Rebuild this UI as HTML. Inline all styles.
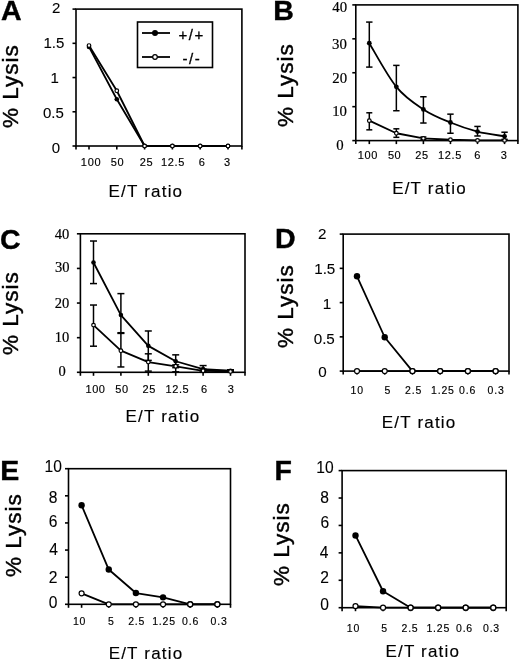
<!DOCTYPE html>
<html><head><meta charset="utf-8"><title>Lysis</title>
<style>html,body{margin:0;padding:0;background:#fff;}svg{display:block;will-change:transform;}</style></head>
<body><svg width="520" height="660" viewBox="0 0 520 660">
<rect width="520" height="660" fill="#fff"/>
<rect x="76" y="9.1" width="165.9" height="136.9" fill="none" stroke="#000" stroke-width="1.6"/>
<line x1="72.50" y1="146.00" x2="76.00" y2="146.00" stroke="#000" stroke-width="1.6"/>
<line x1="72.50" y1="111.78" x2="76.00" y2="111.78" stroke="#000" stroke-width="1.6"/>
<line x1="72.50" y1="77.55" x2="76.00" y2="77.55" stroke="#000" stroke-width="1.6"/>
<line x1="72.50" y1="43.32" x2="76.00" y2="43.32" stroke="#000" stroke-width="1.6"/>
<line x1="72.50" y1="9.10" x2="76.00" y2="9.10" stroke="#000" stroke-width="1.6"/>
<line x1="76.00" y1="146.00" x2="76.00" y2="149.50" stroke="#000" stroke-width="1.6"/>
<line x1="89.00" y1="146.00" x2="89.00" y2="149.50" stroke="#000" stroke-width="1.6"/>
<line x1="116.80" y1="146.00" x2="116.80" y2="149.50" stroke="#000" stroke-width="1.6"/>
<line x1="144.60" y1="146.00" x2="144.60" y2="149.50" stroke="#000" stroke-width="1.6"/>
<line x1="172.40" y1="146.00" x2="172.40" y2="149.50" stroke="#000" stroke-width="1.6"/>
<line x1="200.20" y1="146.00" x2="200.20" y2="149.50" stroke="#000" stroke-width="1.6"/>
<line x1="228.00" y1="146.00" x2="228.00" y2="149.50" stroke="#000" stroke-width="1.6"/>
<line x1="241.90" y1="146.00" x2="241.90" y2="149.50" stroke="#000" stroke-width="1.6"/>
<text x="56.05" y="12.70" font-size="15" text-anchor="middle" font-family='"Liberation Sans", sans-serif' font-weight="normal" stroke="#000" stroke-width="0.1">2</text>
<text x="53.90" y="48.10" font-size="15" text-anchor="middle" font-family='"Liberation Sans", sans-serif' font-weight="normal" stroke="#000" stroke-width="0.1">1.5</text>
<text x="54.75" y="82.70" font-size="15" text-anchor="middle" font-family='"Liberation Sans", sans-serif' font-weight="normal" stroke="#000" stroke-width="0.1">1</text>
<text x="53.40" y="117.90" font-size="15" text-anchor="middle" font-family='"Liberation Sans", sans-serif' font-weight="normal" stroke="#000" stroke-width="0.1">0.5</text>
<text x="55.95" y="152.70" font-size="15" text-anchor="middle" font-family='"Liberation Sans", sans-serif' font-weight="normal" stroke="#000" stroke-width="0.1">0</text>
<text x="91.10" y="166.00" font-size="11" text-anchor="middle" font-family='"Liberation Sans", sans-serif' font-weight="normal" stroke="#000" stroke-width="0.15" letter-spacing="0.7">100</text>
<text x="117.60" y="166.00" font-size="11" text-anchor="middle" font-family='"Liberation Sans", sans-serif' font-weight="normal" stroke="#000" stroke-width="0.15" letter-spacing="0.7">50</text>
<text x="146.50" y="166.00" font-size="11" text-anchor="middle" font-family='"Liberation Sans", sans-serif' font-weight="normal" stroke="#000" stroke-width="0.15" letter-spacing="0.7">25</text>
<text x="173.00" y="166.00" font-size="11" text-anchor="middle" font-family='"Liberation Sans", sans-serif' font-weight="normal" stroke="#000" stroke-width="0.15" letter-spacing="0.7">12.5</text>
<text x="202.20" y="166.00" font-size="11" text-anchor="middle" font-family='"Liberation Sans", sans-serif' font-weight="normal" stroke="#000" stroke-width="0.15" letter-spacing="0.7">6</text>
<text x="227.40" y="166.00" font-size="11" text-anchor="middle" font-family='"Liberation Sans", sans-serif' font-weight="normal" stroke="#000" stroke-width="0.15" letter-spacing="0.7">3</text>
<path d="M89.00,46.90 L116.80,99.26 L144.60,146.00 L172.40,146.00 L200.20,146.00 L228.00,146.00" fill="none" stroke="#000" stroke-width="1.8" stroke-linejoin="round"/>
<circle cx="89.00" cy="46.90" r="2.3" fill="#000"/>
<circle cx="116.80" cy="99.26" r="2.3" fill="#000"/>
<circle cx="144.60" cy="146.00" r="2.3" fill="#000"/>
<circle cx="172.40" cy="146.00" r="2.3" fill="#000"/>
<circle cx="200.20" cy="146.00" r="2.3" fill="#000"/>
<circle cx="228.00" cy="146.00" r="2.3" fill="#000"/>
<path d="M89.00,45.54 L116.80,90.76 L144.60,146.00 L172.40,146.00 L200.20,146.00 L228.00,146.00" fill="none" stroke="#000" stroke-width="1.8" stroke-linejoin="round"/>
<circle cx="89.00" cy="45.54" r="1.7999999999999998" fill="#fff" stroke="#000" stroke-width="1.2"/>
<circle cx="116.80" cy="90.76" r="1.7999999999999998" fill="#fff" stroke="#000" stroke-width="1.2"/>
<circle cx="144.60" cy="146.00" r="1.7999999999999998" fill="#fff" stroke="#000" stroke-width="1.2"/>
<circle cx="172.40" cy="146.00" r="1.7999999999999998" fill="#fff" stroke="#000" stroke-width="1.2"/>
<circle cx="200.20" cy="146.00" r="1.7999999999999998" fill="#fff" stroke="#000" stroke-width="1.2"/>
<circle cx="228.00" cy="146.00" r="1.7999999999999998" fill="#fff" stroke="#000" stroke-width="1.2"/>
<text x="11.35" y="20.30" font-size="28.5" text-anchor="middle" font-family='"Liberation Sans", sans-serif' font-weight="bold" stroke="#000" stroke-width="0.4">A</text>
<text transform="translate(18.20,86.15) rotate(-90)" font-size="22.5" font-family='"Liberation Sans", sans-serif' font-weight="normal" text-anchor="middle" stroke="#000" stroke-width="0.4" letter-spacing="1.0">% Lysis</text>
<text x="145.90" y="197.20" font-size="17" text-anchor="middle" font-family='"Liberation Sans", sans-serif' font-weight="normal" stroke="#000" stroke-width="0.15" letter-spacing="1.2">E/T ratio</text>
<rect x="355.8" y="4.9" width="162.09999999999997" height="135.7" fill="none" stroke="#000" stroke-width="1.6"/>
<line x1="352.30" y1="140.60" x2="355.80" y2="140.60" stroke="#000" stroke-width="1.6"/>
<line x1="352.30" y1="106.67" x2="355.80" y2="106.67" stroke="#000" stroke-width="1.6"/>
<line x1="352.30" y1="72.75" x2="355.80" y2="72.75" stroke="#000" stroke-width="1.6"/>
<line x1="352.30" y1="38.83" x2="355.80" y2="38.83" stroke="#000" stroke-width="1.6"/>
<line x1="352.30" y1="4.90" x2="355.80" y2="4.90" stroke="#000" stroke-width="1.6"/>
<line x1="355.80" y1="140.60" x2="355.80" y2="144.10" stroke="#000" stroke-width="1.6"/>
<line x1="369.30" y1="140.60" x2="369.30" y2="144.10" stroke="#000" stroke-width="1.6"/>
<line x1="396.35" y1="140.60" x2="396.35" y2="144.10" stroke="#000" stroke-width="1.6"/>
<line x1="423.40" y1="140.60" x2="423.40" y2="144.10" stroke="#000" stroke-width="1.6"/>
<line x1="450.45" y1="140.60" x2="450.45" y2="144.10" stroke="#000" stroke-width="1.6"/>
<line x1="477.50" y1="140.60" x2="477.50" y2="144.10" stroke="#000" stroke-width="1.6"/>
<line x1="504.55" y1="140.60" x2="504.55" y2="144.10" stroke="#000" stroke-width="1.6"/>
<line x1="517.90" y1="140.60" x2="517.90" y2="144.10" stroke="#000" stroke-width="1.6"/>
<text x="339.70" y="11.70" font-size="14.8" text-anchor="middle" font-family='"Liberation Serif", serif' font-weight="normal" stroke="#000" stroke-width="0.2">40</text>
<text x="339.50" y="48.50" font-size="14.8" text-anchor="middle" font-family='"Liberation Serif", serif' font-weight="normal" stroke="#000" stroke-width="0.2">30</text>
<text x="339.65" y="82.50" font-size="14.8" text-anchor="middle" font-family='"Liberation Serif", serif' font-weight="normal" stroke="#000" stroke-width="0.2">20</text>
<text x="339.60" y="116.10" font-size="14.8" text-anchor="middle" font-family='"Liberation Serif", serif' font-weight="normal" stroke="#000" stroke-width="0.2">10</text>
<text x="339.95" y="149.80" font-size="14.8" text-anchor="middle" font-family='"Liberation Serif", serif' font-weight="normal" stroke="#000" stroke-width="0.2">0</text>
<text x="367.80" y="158.60" font-size="11" text-anchor="middle" font-family='"Liberation Sans", sans-serif' font-weight="normal" stroke="#000" stroke-width="0.15" letter-spacing="0.6">100</text>
<text x="394.60" y="158.60" font-size="11" text-anchor="middle" font-family='"Liberation Sans", sans-serif' font-weight="normal" stroke="#000" stroke-width="0.15" letter-spacing="0.6">50</text>
<text x="421.90" y="158.60" font-size="11" text-anchor="middle" font-family='"Liberation Sans", sans-serif' font-weight="normal" stroke="#000" stroke-width="0.15" letter-spacing="0.6">25</text>
<text x="450.00" y="158.60" font-size="11" text-anchor="middle" font-family='"Liberation Sans", sans-serif' font-weight="normal" stroke="#000" stroke-width="0.15" letter-spacing="0.6">12.5</text>
<text x="477.70" y="158.60" font-size="11" text-anchor="middle" font-family='"Liberation Sans", sans-serif' font-weight="normal" stroke="#000" stroke-width="0.15" letter-spacing="0.6">6</text>
<text x="504.00" y="158.60" font-size="11" text-anchor="middle" font-family='"Liberation Sans", sans-serif' font-weight="normal" stroke="#000" stroke-width="0.15" letter-spacing="0.6">3</text>
<line x1="369.30" y1="22.08" x2="369.30" y2="67.09" stroke="#000" stroke-width="1.5"/>
<line x1="366.10" y1="22.08" x2="372.50" y2="22.08" stroke="#000" stroke-width="1.5"/>
<line x1="366.10" y1="67.09" x2="372.50" y2="67.09" stroke="#000" stroke-width="1.5"/>
<line x1="396.35" y1="65.39" x2="396.35" y2="110.74" stroke="#000" stroke-width="1.5"/>
<line x1="393.15" y1="65.39" x2="399.55" y2="65.39" stroke="#000" stroke-width="1.5"/>
<line x1="393.15" y1="110.74" x2="399.55" y2="110.74" stroke="#000" stroke-width="1.5"/>
<line x1="423.40" y1="96.76" x2="423.40" y2="123.02" stroke="#000" stroke-width="1.5"/>
<line x1="420.20" y1="96.76" x2="426.60" y2="96.76" stroke="#000" stroke-width="1.5"/>
<line x1="420.20" y1="123.02" x2="426.60" y2="123.02" stroke="#000" stroke-width="1.5"/>
<line x1="450.45" y1="114.15" x2="450.45" y2="133.25" stroke="#000" stroke-width="1.5"/>
<line x1="447.25" y1="114.15" x2="453.65" y2="114.15" stroke="#000" stroke-width="1.5"/>
<line x1="447.25" y1="133.25" x2="453.65" y2="133.25" stroke="#000" stroke-width="1.5"/>
<line x1="477.50" y1="126.43" x2="477.50" y2="135.98" stroke="#000" stroke-width="1.5"/>
<line x1="474.30" y1="126.43" x2="480.70" y2="126.43" stroke="#000" stroke-width="1.5"/>
<line x1="474.30" y1="135.98" x2="480.70" y2="135.98" stroke="#000" stroke-width="1.5"/>
<line x1="504.55" y1="132.22" x2="504.55" y2="139.39" stroke="#000" stroke-width="1.5"/>
<line x1="501.35" y1="132.22" x2="507.75" y2="132.22" stroke="#000" stroke-width="1.5"/>
<line x1="501.35" y1="139.39" x2="507.75" y2="139.39" stroke="#000" stroke-width="1.5"/>
<path d="M369.30,43.22 C373.81,50.50 387.33,75.85 396.35,86.87 C405.37,97.90 414.38,103.44 423.40,109.38 C432.42,115.32 441.43,118.81 450.45,122.51 C459.47,126.20 468.48,129.24 477.50,131.54 C486.52,133.84 500.04,135.52 504.55,136.32" fill="none" stroke="#000" stroke-width="1.8" stroke-linejoin="round"/>
<circle cx="369.30" cy="43.22" r="2.4" fill="#000"/>
<circle cx="396.35" cy="86.87" r="2.4" fill="#000"/>
<circle cx="423.40" cy="109.38" r="2.4" fill="#000"/>
<circle cx="450.45" cy="122.51" r="2.4" fill="#000"/>
<circle cx="477.50" cy="131.54" r="2.4" fill="#000"/>
<circle cx="504.55" cy="136.32" r="2.4" fill="#000"/>
<line x1="369.30" y1="112.79" x2="369.30" y2="129.84" stroke="#000" stroke-width="1.5"/>
<line x1="366.30" y1="112.79" x2="372.30" y2="112.79" stroke="#000" stroke-width="1.5"/>
<line x1="366.30" y1="129.84" x2="372.30" y2="129.84" stroke="#000" stroke-width="1.5"/>
<line x1="396.35" y1="128.81" x2="396.35" y2="137.34" stroke="#000" stroke-width="1.5"/>
<line x1="393.35" y1="128.81" x2="399.35" y2="128.81" stroke="#000" stroke-width="1.5"/>
<line x1="393.35" y1="137.34" x2="399.35" y2="137.34" stroke="#000" stroke-width="1.5"/>
<line x1="423.40" y1="137.00" x2="423.40" y2="139.73" stroke="#000" stroke-width="1.5"/>
<line x1="420.40" y1="137.00" x2="426.40" y2="137.00" stroke="#000" stroke-width="1.5"/>
<line x1="420.40" y1="139.73" x2="426.40" y2="139.73" stroke="#000" stroke-width="1.5"/>
<path d="M369.30,120.63 L396.35,133.25 L423.40,138.36 L450.45,139.73 L477.50,140.41 L504.55,140.41" fill="none" stroke="#000" stroke-width="1.8" stroke-linejoin="round"/>
<circle cx="369.30" cy="120.63" r="1.7999999999999998" fill="#fff" stroke="#000" stroke-width="1.2"/>
<circle cx="396.35" cy="133.25" r="1.7999999999999998" fill="#fff" stroke="#000" stroke-width="1.2"/>
<circle cx="423.40" cy="138.36" r="1.7999999999999998" fill="#fff" stroke="#000" stroke-width="1.2"/>
<circle cx="450.45" cy="139.73" r="1.7999999999999998" fill="#fff" stroke="#000" stroke-width="1.2"/>
<circle cx="477.50" cy="140.41" r="1.7999999999999998" fill="#fff" stroke="#000" stroke-width="1.2"/>
<circle cx="504.55" cy="140.41" r="1.7999999999999998" fill="#fff" stroke="#000" stroke-width="1.2"/>
<text x="283.55" y="20.20" font-size="28.5" text-anchor="middle" font-family='"Liberation Sans", sans-serif' font-weight="bold" stroke="#000" stroke-width="0.4">B</text>
<text transform="translate(292.50,85.20) rotate(-90)" font-size="22.5" font-family='"Liberation Sans", sans-serif' font-weight="normal" text-anchor="middle" stroke="#000" stroke-width="0.4" letter-spacing="1.0">% Lysis</text>
<text x="429.50" y="193.50" font-size="17" text-anchor="middle" font-family='"Liberation Sans", sans-serif' font-weight="normal" stroke="#000" stroke-width="0.15" letter-spacing="1.2">E/T ratio</text>
<rect x="80.4" y="233.8" width="164.6" height="138.5" fill="none" stroke="#000" stroke-width="1.6"/>
<line x1="76.90" y1="372.30" x2="80.40" y2="372.30" stroke="#000" stroke-width="1.6"/>
<line x1="76.90" y1="337.68" x2="80.40" y2="337.68" stroke="#000" stroke-width="1.6"/>
<line x1="76.90" y1="303.05" x2="80.40" y2="303.05" stroke="#000" stroke-width="1.6"/>
<line x1="76.90" y1="268.43" x2="80.40" y2="268.43" stroke="#000" stroke-width="1.6"/>
<line x1="76.90" y1="233.80" x2="80.40" y2="233.80" stroke="#000" stroke-width="1.6"/>
<line x1="80.40" y1="372.30" x2="80.40" y2="375.80" stroke="#000" stroke-width="1.6"/>
<line x1="93.50" y1="372.30" x2="93.50" y2="375.80" stroke="#000" stroke-width="1.6"/>
<line x1="120.90" y1="372.30" x2="120.90" y2="375.80" stroke="#000" stroke-width="1.6"/>
<line x1="148.30" y1="372.30" x2="148.30" y2="375.80" stroke="#000" stroke-width="1.6"/>
<line x1="175.70" y1="372.30" x2="175.70" y2="375.80" stroke="#000" stroke-width="1.6"/>
<line x1="203.10" y1="372.30" x2="203.10" y2="375.80" stroke="#000" stroke-width="1.6"/>
<line x1="230.50" y1="372.30" x2="230.50" y2="375.80" stroke="#000" stroke-width="1.6"/>
<line x1="245.00" y1="372.30" x2="245.00" y2="375.80" stroke="#000" stroke-width="1.6"/>
<text x="62.10" y="238.70" font-size="14.5" text-anchor="middle" font-family='"Liberation Serif", serif' font-weight="normal" stroke="#000" stroke-width="0.2">40</text>
<text x="62.15" y="272.30" font-size="14.5" text-anchor="middle" font-family='"Liberation Serif", serif' font-weight="normal" stroke="#000" stroke-width="0.2">30</text>
<text x="61.95" y="307.50" font-size="14.5" text-anchor="middle" font-family='"Liberation Serif", serif' font-weight="normal" stroke="#000" stroke-width="0.2">20</text>
<text x="62.10" y="341.60" font-size="14.5" text-anchor="middle" font-family='"Liberation Serif", serif' font-weight="normal" stroke="#000" stroke-width="0.2">10</text>
<text x="62.00" y="375.80" font-size="14.5" text-anchor="middle" font-family='"Liberation Serif", serif' font-weight="normal" stroke="#000" stroke-width="0.2">0</text>
<text x="95.50" y="392.70" font-size="11" text-anchor="middle" font-family='"Liberation Sans", sans-serif' font-weight="normal" stroke="#000" stroke-width="0.15" letter-spacing="0.6">100</text>
<text x="121.90" y="392.70" font-size="11" text-anchor="middle" font-family='"Liberation Sans", sans-serif' font-weight="normal" stroke="#000" stroke-width="0.15" letter-spacing="0.6">50</text>
<text x="149.20" y="392.70" font-size="11" text-anchor="middle" font-family='"Liberation Sans", sans-serif' font-weight="normal" stroke="#000" stroke-width="0.15" letter-spacing="0.6">25</text>
<text x="177.40" y="392.70" font-size="11" text-anchor="middle" font-family='"Liberation Sans", sans-serif' font-weight="normal" stroke="#000" stroke-width="0.15" letter-spacing="0.6">12.5</text>
<text x="204.40" y="392.70" font-size="11" text-anchor="middle" font-family='"Liberation Sans", sans-serif' font-weight="normal" stroke="#000" stroke-width="0.15" letter-spacing="0.6">6</text>
<text x="231.10" y="392.70" font-size="11" text-anchor="middle" font-family='"Liberation Sans", sans-serif' font-weight="normal" stroke="#000" stroke-width="0.15" letter-spacing="0.6">3</text>
<line x1="93.50" y1="241.02" x2="93.50" y2="283.58" stroke="#000" stroke-width="1.5"/>
<line x1="90.00" y1="241.02" x2="97.00" y2="241.02" stroke="#000" stroke-width="1.5"/>
<line x1="90.00" y1="283.58" x2="97.00" y2="283.58" stroke="#000" stroke-width="1.5"/>
<line x1="120.90" y1="293.61" x2="120.90" y2="332.71" stroke="#000" stroke-width="1.5"/>
<line x1="117.40" y1="293.61" x2="124.40" y2="293.61" stroke="#000" stroke-width="1.5"/>
<line x1="117.40" y1="332.71" x2="124.40" y2="332.71" stroke="#000" stroke-width="1.5"/>
<line x1="148.30" y1="330.98" x2="148.30" y2="360.39" stroke="#000" stroke-width="1.5"/>
<line x1="144.80" y1="330.98" x2="151.80" y2="330.98" stroke="#000" stroke-width="1.5"/>
<line x1="144.80" y1="360.39" x2="151.80" y2="360.39" stroke="#000" stroke-width="1.5"/>
<line x1="175.70" y1="354.85" x2="175.70" y2="367.66" stroke="#000" stroke-width="1.5"/>
<line x1="172.20" y1="354.85" x2="179.20" y2="354.85" stroke="#000" stroke-width="1.5"/>
<line x1="172.20" y1="367.66" x2="179.20" y2="367.66" stroke="#000" stroke-width="1.5"/>
<line x1="203.10" y1="365.58" x2="203.10" y2="372.15" stroke="#000" stroke-width="1.5"/>
<line x1="199.60" y1="365.58" x2="206.60" y2="365.58" stroke="#000" stroke-width="1.5"/>
<line x1="199.60" y1="372.15" x2="206.60" y2="372.15" stroke="#000" stroke-width="1.5"/>
<line x1="230.50" y1="369.73" x2="230.50" y2="371.81" stroke="#000" stroke-width="1.5"/>
<line x1="227.00" y1="369.73" x2="234.00" y2="369.73" stroke="#000" stroke-width="1.5"/>
<line x1="227.00" y1="371.81" x2="234.00" y2="371.81" stroke="#000" stroke-width="1.5"/>
<path d="M93.50,262.47 L120.90,315.06 L148.30,345.86 L175.70,361.25 L203.10,369.04 L230.50,370.77" fill="none" stroke="#000" stroke-width="1.8" stroke-linejoin="round"/>
<circle cx="93.50" cy="262.47" r="2.3" fill="#000"/>
<circle cx="120.90" cy="315.06" r="2.3" fill="#000"/>
<circle cx="148.30" cy="345.86" r="2.3" fill="#000"/>
<circle cx="175.70" cy="361.25" r="2.3" fill="#000"/>
<circle cx="203.10" cy="369.04" r="2.3" fill="#000"/>
<circle cx="230.50" cy="370.77" r="2.3" fill="#000"/>
<line x1="93.50" y1="305.03" x2="93.50" y2="346.20" stroke="#000" stroke-width="1.5"/>
<line x1="90.00" y1="305.03" x2="97.00" y2="305.03" stroke="#000" stroke-width="1.5"/>
<line x1="90.00" y1="346.20" x2="97.00" y2="346.20" stroke="#000" stroke-width="1.5"/>
<line x1="120.90" y1="333.40" x2="120.90" y2="366.96" stroke="#000" stroke-width="1.5"/>
<line x1="117.40" y1="333.40" x2="124.40" y2="333.40" stroke="#000" stroke-width="1.5"/>
<line x1="117.40" y1="366.96" x2="124.40" y2="366.96" stroke="#000" stroke-width="1.5"/>
<line x1="148.30" y1="353.82" x2="148.30" y2="371.12" stroke="#000" stroke-width="1.5"/>
<line x1="144.80" y1="353.82" x2="151.80" y2="353.82" stroke="#000" stroke-width="1.5"/>
<line x1="144.80" y1="371.12" x2="151.80" y2="371.12" stroke="#000" stroke-width="1.5"/>
<line x1="175.70" y1="364.89" x2="175.70" y2="371.81" stroke="#000" stroke-width="1.5"/>
<line x1="172.20" y1="364.89" x2="179.20" y2="364.89" stroke="#000" stroke-width="1.5"/>
<line x1="172.20" y1="371.81" x2="179.20" y2="371.81" stroke="#000" stroke-width="1.5"/>
<line x1="203.10" y1="369.04" x2="203.10" y2="372.30" stroke="#000" stroke-width="1.5"/>
<line x1="199.60" y1="369.04" x2="206.60" y2="369.04" stroke="#000" stroke-width="1.5"/>
<line x1="199.60" y1="372.30" x2="206.60" y2="372.30" stroke="#000" stroke-width="1.5"/>
<line x1="230.50" y1="370.42" x2="230.50" y2="372.30" stroke="#000" stroke-width="1.5"/>
<line x1="227.00" y1="370.42" x2="234.00" y2="370.42" stroke="#000" stroke-width="1.5"/>
<line x1="227.00" y1="372.30" x2="234.00" y2="372.30" stroke="#000" stroke-width="1.5"/>
<path d="M93.50,325.10 L120.90,350.70 L148.30,362.12 L175.70,366.27 L203.10,370.77 L230.50,371.46" fill="none" stroke="#000" stroke-width="1.8" stroke-linejoin="round"/>
<circle cx="93.50" cy="325.10" r="1.7999999999999998" fill="#fff" stroke="#000" stroke-width="1.2"/>
<circle cx="120.90" cy="350.70" r="1.7999999999999998" fill="#fff" stroke="#000" stroke-width="1.2"/>
<circle cx="148.30" cy="362.12" r="1.7999999999999998" fill="#fff" stroke="#000" stroke-width="1.2"/>
<circle cx="175.70" cy="366.27" r="1.7999999999999998" fill="#fff" stroke="#000" stroke-width="1.2"/>
<circle cx="203.10" cy="370.77" r="1.7999999999999998" fill="#fff" stroke="#000" stroke-width="1.2"/>
<circle cx="230.50" cy="371.46" r="1.7999999999999998" fill="#fff" stroke="#000" stroke-width="1.2"/>
<text x="10.30" y="248.60" font-size="28.5" text-anchor="middle" font-family='"Liberation Sans", sans-serif' font-weight="bold" stroke="#000" stroke-width="0.4">C</text>
<text transform="translate(18.40,313.10) rotate(-90)" font-size="22.5" font-family='"Liberation Sans", sans-serif' font-weight="normal" text-anchor="middle" stroke="#000" stroke-width="0.4" letter-spacing="1.0">% Lysis</text>
<text x="162.95" y="421.80" font-size="17" text-anchor="middle" font-family='"Liberation Sans", sans-serif' font-weight="normal" stroke="#000" stroke-width="0.15" letter-spacing="1.2">E/T ratio</text>
<rect x="343.2" y="234.1" width="165.8" height="137.00000000000003" fill="none" stroke="#000" stroke-width="1.6"/>
<line x1="339.70" y1="371.10" x2="343.20" y2="371.10" stroke="#000" stroke-width="1.6"/>
<line x1="339.70" y1="336.85" x2="343.20" y2="336.85" stroke="#000" stroke-width="1.6"/>
<line x1="339.70" y1="302.60" x2="343.20" y2="302.60" stroke="#000" stroke-width="1.6"/>
<line x1="339.70" y1="268.35" x2="343.20" y2="268.35" stroke="#000" stroke-width="1.6"/>
<line x1="339.70" y1="234.10" x2="343.20" y2="234.10" stroke="#000" stroke-width="1.6"/>
<line x1="343.20" y1="371.10" x2="343.20" y2="374.60" stroke="#000" stroke-width="1.6"/>
<line x1="357.00" y1="371.10" x2="357.00" y2="374.60" stroke="#000" stroke-width="1.6"/>
<line x1="384.72" y1="371.10" x2="384.72" y2="374.60" stroke="#000" stroke-width="1.6"/>
<line x1="412.44" y1="371.10" x2="412.44" y2="374.60" stroke="#000" stroke-width="1.6"/>
<line x1="440.16" y1="371.10" x2="440.16" y2="374.60" stroke="#000" stroke-width="1.6"/>
<line x1="467.88" y1="371.10" x2="467.88" y2="374.60" stroke="#000" stroke-width="1.6"/>
<line x1="495.60" y1="371.10" x2="495.60" y2="374.60" stroke="#000" stroke-width="1.6"/>
<line x1="509.00" y1="371.10" x2="509.00" y2="374.60" stroke="#000" stroke-width="1.6"/>
<text x="322.35" y="239.40" font-size="15.2" text-anchor="middle" font-family='"Liberation Sans", sans-serif' font-weight="normal" stroke="#000" stroke-width="0.1">2</text>
<text x="324.75" y="273.60" font-size="15.2" text-anchor="middle" font-family='"Liberation Sans", sans-serif' font-weight="normal" stroke="#000" stroke-width="0.1">1.5</text>
<text x="326.90" y="308.80" font-size="15.2" text-anchor="middle" font-family='"Liberation Sans", sans-serif' font-weight="normal" stroke="#000" stroke-width="0.1">1</text>
<text x="324.25" y="343.60" font-size="15.2" text-anchor="middle" font-family='"Liberation Sans", sans-serif' font-weight="normal" stroke="#000" stroke-width="0.1">0.5</text>
<text x="322.60" y="377.00" font-size="15.2" text-anchor="middle" font-family='"Liberation Sans", sans-serif' font-weight="normal" stroke="#000" stroke-width="0.1">0</text>
<text x="357.20" y="394.40" font-size="10.5" text-anchor="middle" font-family='"Liberation Sans", sans-serif' font-weight="normal" stroke="#000" stroke-width="0.15" letter-spacing="0.8">10</text>
<text x="387.80" y="394.40" font-size="10.5" text-anchor="middle" font-family='"Liberation Sans", sans-serif' font-weight="normal" stroke="#000" stroke-width="0.15" letter-spacing="0.8">5</text>
<text x="413.60" y="394.40" font-size="10.5" text-anchor="middle" font-family='"Liberation Sans", sans-serif' font-weight="normal" stroke="#000" stroke-width="0.15" letter-spacing="0.8">2.5</text>
<text x="442.90" y="394.40" font-size="10.5" text-anchor="middle" font-family='"Liberation Sans", sans-serif' font-weight="normal" stroke="#000" stroke-width="0.15" letter-spacing="0.8">1.25</text>
<text x="467.60" y="394.40" font-size="10.5" text-anchor="middle" font-family='"Liberation Sans", sans-serif' font-weight="normal" stroke="#000" stroke-width="0.15" letter-spacing="0.8">0.6</text>
<text x="496.10" y="394.40" font-size="10.5" text-anchor="middle" font-family='"Liberation Sans", sans-serif' font-weight="normal" stroke="#000" stroke-width="0.15" letter-spacing="0.8">0.3</text>
<path d="M357.00,276.29 L384.72,337.25 L412.44,371.10 L440.16,371.10 L467.88,371.10 L495.60,371.10" fill="none" stroke="#000" stroke-width="1.8" stroke-linejoin="round"/>
<circle cx="357.00" cy="276.29" r="3.2" fill="#000"/>
<circle cx="384.72" cy="337.25" r="3.2" fill="#000"/>
<circle cx="412.44" cy="371.10" r="3.2" fill="#000"/>
<circle cx="440.16" cy="371.10" r="3.2" fill="#000"/>
<circle cx="467.88" cy="371.10" r="3.2" fill="#000"/>
<circle cx="495.60" cy="371.10" r="3.2" fill="#000"/>
<path d="M357.00,371.10 L384.72,371.10 L412.44,371.10 L440.16,371.10 L467.88,371.10 L495.60,371.10" fill="none" stroke="#000" stroke-width="1.8" stroke-linejoin="round"/>
<circle cx="357.00" cy="371.10" r="2.5" fill="#fff" stroke="#000" stroke-width="1.2"/>
<circle cx="384.72" cy="371.10" r="2.5" fill="#fff" stroke="#000" stroke-width="1.2"/>
<circle cx="412.44" cy="371.10" r="2.5" fill="#fff" stroke="#000" stroke-width="1.2"/>
<circle cx="440.16" cy="371.10" r="2.5" fill="#fff" stroke="#000" stroke-width="1.2"/>
<circle cx="467.88" cy="371.10" r="2.5" fill="#fff" stroke="#000" stroke-width="1.2"/>
<circle cx="495.60" cy="371.10" r="2.5" fill="#fff" stroke="#000" stroke-width="1.2"/>
<text x="285.20" y="248.14" font-size="28.5" text-anchor="middle" font-family='"Liberation Sans", sans-serif' font-weight="bold" stroke="#000" stroke-width="0.4">D</text>
<text transform="translate(293.40,306.10) rotate(-90)" font-size="22.5" font-family='"Liberation Sans", sans-serif' font-weight="normal" text-anchor="middle" stroke="#000" stroke-width="0.4" letter-spacing="1.0">% Lysis</text>
<text x="419.10" y="428.00" font-size="17" text-anchor="middle" font-family='"Liberation Sans", sans-serif' font-weight="normal" stroke="#000" stroke-width="0.15" letter-spacing="1.2">E/T ratio</text>
<rect x="68.5" y="468.7" width="162.0" height="135.59999999999997" fill="none" stroke="#000" stroke-width="1.6"/>
<line x1="65.00" y1="604.30" x2="68.50" y2="604.30" stroke="#000" stroke-width="1.6"/>
<line x1="65.00" y1="577.18" x2="68.50" y2="577.18" stroke="#000" stroke-width="1.6"/>
<line x1="65.00" y1="550.06" x2="68.50" y2="550.06" stroke="#000" stroke-width="1.6"/>
<line x1="65.00" y1="522.94" x2="68.50" y2="522.94" stroke="#000" stroke-width="1.6"/>
<line x1="65.00" y1="495.82" x2="68.50" y2="495.82" stroke="#000" stroke-width="1.6"/>
<line x1="65.00" y1="468.70" x2="68.50" y2="468.70" stroke="#000" stroke-width="1.6"/>
<line x1="68.50" y1="604.30" x2="68.50" y2="607.80" stroke="#000" stroke-width="1.6"/>
<line x1="81.60" y1="604.30" x2="81.60" y2="607.80" stroke="#000" stroke-width="1.6"/>
<line x1="108.75" y1="604.30" x2="108.75" y2="607.80" stroke="#000" stroke-width="1.6"/>
<line x1="135.90" y1="604.30" x2="135.90" y2="607.80" stroke="#000" stroke-width="1.6"/>
<line x1="163.05" y1="604.30" x2="163.05" y2="607.80" stroke="#000" stroke-width="1.6"/>
<line x1="190.20" y1="604.30" x2="190.20" y2="607.80" stroke="#000" stroke-width="1.6"/>
<line x1="217.35" y1="604.30" x2="217.35" y2="607.80" stroke="#000" stroke-width="1.6"/>
<line x1="230.50" y1="604.30" x2="230.50" y2="607.80" stroke="#000" stroke-width="1.6"/>
<text x="53.30" y="472.10" font-size="15.6" text-anchor="middle" font-family='"Liberation Sans", sans-serif' font-weight="normal" stroke="#000" stroke-width="0.1">10</text>
<text x="53.20" y="502.50" font-size="15.6" text-anchor="middle" font-family='"Liberation Sans", sans-serif' font-weight="normal" stroke="#000" stroke-width="0.1">8</text>
<text x="53.20" y="527.10" font-size="15.6" text-anchor="middle" font-family='"Liberation Sans", sans-serif' font-weight="normal" stroke="#000" stroke-width="0.1">6</text>
<text x="53.70" y="555.10" font-size="15.6" text-anchor="middle" font-family='"Liberation Sans", sans-serif' font-weight="normal" stroke="#000" stroke-width="0.1">4</text>
<text x="53.20" y="582.80" font-size="15.6" text-anchor="middle" font-family='"Liberation Sans", sans-serif' font-weight="normal" stroke="#000" stroke-width="0.1">2</text>
<text x="53.20" y="607.50" font-size="15.6" text-anchor="middle" font-family='"Liberation Sans", sans-serif' font-weight="normal" stroke="#000" stroke-width="0.1">0</text>
<text x="79.60" y="624.60" font-size="10.5" text-anchor="middle" font-family='"Liberation Sans", sans-serif' font-weight="normal" stroke="#000" stroke-width="0.15" letter-spacing="0.8">10</text>
<text x="111.25" y="624.60" font-size="10.5" text-anchor="middle" font-family='"Liberation Sans", sans-serif' font-weight="normal" stroke="#000" stroke-width="0.15" letter-spacing="0.8">5</text>
<text x="136.70" y="624.60" font-size="10.5" text-anchor="middle" font-family='"Liberation Sans", sans-serif' font-weight="normal" stroke="#000" stroke-width="0.15" letter-spacing="0.8">2.5</text>
<text x="164.00" y="624.60" font-size="10.5" text-anchor="middle" font-family='"Liberation Sans", sans-serif' font-weight="normal" stroke="#000" stroke-width="0.15" letter-spacing="0.8">1.25</text>
<text x="190.60" y="624.60" font-size="10.5" text-anchor="middle" font-family='"Liberation Sans", sans-serif' font-weight="normal" stroke="#000" stroke-width="0.15" letter-spacing="0.8">0.6</text>
<text x="219.10" y="624.60" font-size="10.5" text-anchor="middle" font-family='"Liberation Sans", sans-serif' font-weight="normal" stroke="#000" stroke-width="0.15" letter-spacing="0.8">0.3</text>
<path d="M81.60,505.30 L108.75,569.55 L135.90,593.04 L163.05,597.37 L190.20,604.30 L217.35,604.30" fill="none" stroke="#000" stroke-width="1.8" stroke-linejoin="round"/>
<circle cx="81.60" cy="505.30" r="3.2" fill="#000"/>
<circle cx="108.75" cy="569.55" r="3.2" fill="#000"/>
<circle cx="135.90" cy="593.04" r="3.2" fill="#000"/>
<circle cx="163.05" cy="597.37" r="3.2" fill="#000"/>
<circle cx="190.20" cy="604.30" r="3.2" fill="#000"/>
<circle cx="217.35" cy="604.30" r="3.2" fill="#000"/>
<path d="M81.60,593.32 L108.75,604.30 L135.90,604.30 L163.05,604.30 L190.20,604.30 L217.35,604.30" fill="none" stroke="#000" stroke-width="1.8" stroke-linejoin="round"/>
<circle cx="81.60" cy="593.32" r="2.5" fill="#fff" stroke="#000" stroke-width="1.2"/>
<circle cx="108.75" cy="604.30" r="2.5" fill="#fff" stroke="#000" stroke-width="1.2"/>
<circle cx="135.90" cy="604.30" r="2.5" fill="#fff" stroke="#000" stroke-width="1.2"/>
<circle cx="163.05" cy="604.30" r="2.5" fill="#fff" stroke="#000" stroke-width="1.2"/>
<circle cx="190.20" cy="604.30" r="2.5" fill="#fff" stroke="#000" stroke-width="1.2"/>
<circle cx="217.35" cy="604.30" r="2.5" fill="#fff" stroke="#000" stroke-width="1.2"/>
<text x="9.70" y="480.40" font-size="28.5" text-anchor="middle" font-family='"Liberation Sans", sans-serif' font-weight="bold" stroke="#000" stroke-width="0.4">E</text>
<text transform="translate(21.00,535.15) rotate(-90)" font-size="22.5" font-family='"Liberation Sans", sans-serif' font-weight="normal" text-anchor="middle" stroke="#000" stroke-width="0.4" letter-spacing="1.0">% Lysis</text>
<text x="146.00" y="658.50" font-size="17" text-anchor="middle" font-family='"Liberation Sans", sans-serif' font-weight="normal" stroke="#000" stroke-width="0.15" letter-spacing="1.2">E/T ratio</text>
<rect x="342.1" y="470.6" width="164.09999999999997" height="137.10000000000002" fill="none" stroke="#000" stroke-width="1.6"/>
<line x1="338.60" y1="607.70" x2="342.10" y2="607.70" stroke="#000" stroke-width="1.6"/>
<line x1="338.60" y1="580.28" x2="342.10" y2="580.28" stroke="#000" stroke-width="1.6"/>
<line x1="338.60" y1="552.86" x2="342.10" y2="552.86" stroke="#000" stroke-width="1.6"/>
<line x1="338.60" y1="525.44" x2="342.10" y2="525.44" stroke="#000" stroke-width="1.6"/>
<line x1="338.60" y1="498.02" x2="342.10" y2="498.02" stroke="#000" stroke-width="1.6"/>
<line x1="338.60" y1="470.60" x2="342.10" y2="470.60" stroke="#000" stroke-width="1.6"/>
<line x1="342.10" y1="607.70" x2="342.10" y2="611.20" stroke="#000" stroke-width="1.6"/>
<line x1="355.50" y1="607.70" x2="355.50" y2="611.20" stroke="#000" stroke-width="1.6"/>
<line x1="383.05" y1="607.70" x2="383.05" y2="611.20" stroke="#000" stroke-width="1.6"/>
<line x1="410.60" y1="607.70" x2="410.60" y2="611.20" stroke="#000" stroke-width="1.6"/>
<line x1="438.15" y1="607.70" x2="438.15" y2="611.20" stroke="#000" stroke-width="1.6"/>
<line x1="465.70" y1="607.70" x2="465.70" y2="611.20" stroke="#000" stroke-width="1.6"/>
<line x1="493.25" y1="607.70" x2="493.25" y2="611.20" stroke="#000" stroke-width="1.6"/>
<line x1="506.20" y1="607.70" x2="506.20" y2="611.20" stroke="#000" stroke-width="1.6"/>
<text x="325.00" y="472.50" font-size="15.6" text-anchor="middle" font-family='"Liberation Sans", sans-serif' font-weight="normal" stroke="#000" stroke-width="0.1">10</text>
<text x="324.65" y="502.80" font-size="15.6" text-anchor="middle" font-family='"Liberation Sans", sans-serif' font-weight="normal" stroke="#000" stroke-width="0.1">8</text>
<text x="324.90" y="527.80" font-size="15.6" text-anchor="middle" font-family='"Liberation Sans", sans-serif' font-weight="normal" stroke="#000" stroke-width="0.1">6</text>
<text x="324.15" y="558.00" font-size="15.6" text-anchor="middle" font-family='"Liberation Sans", sans-serif' font-weight="normal" stroke="#000" stroke-width="0.1">4</text>
<text x="324.55" y="582.50" font-size="15.6" text-anchor="middle" font-family='"Liberation Sans", sans-serif' font-weight="normal" stroke="#000" stroke-width="0.1">2</text>
<text x="324.65" y="610.20" font-size="15.6" text-anchor="middle" font-family='"Liberation Sans", sans-serif' font-weight="normal" stroke="#000" stroke-width="0.1">0</text>
<text x="353.50" y="632.10" font-size="10.5" text-anchor="middle" font-family='"Liberation Sans", sans-serif' font-weight="normal" stroke="#000" stroke-width="0.15" letter-spacing="0.8">10</text>
<text x="384.60" y="632.10" font-size="10.5" text-anchor="middle" font-family='"Liberation Sans", sans-serif' font-weight="normal" stroke="#000" stroke-width="0.15" letter-spacing="0.8">5</text>
<text x="410.00" y="632.10" font-size="10.5" text-anchor="middle" font-family='"Liberation Sans", sans-serif' font-weight="normal" stroke="#000" stroke-width="0.15" letter-spacing="0.8">2.5</text>
<text x="438.30" y="632.10" font-size="10.5" text-anchor="middle" font-family='"Liberation Sans", sans-serif' font-weight="normal" stroke="#000" stroke-width="0.15" letter-spacing="0.8">1.25</text>
<text x="464.50" y="632.10" font-size="10.5" text-anchor="middle" font-family='"Liberation Sans", sans-serif' font-weight="normal" stroke="#000" stroke-width="0.15" letter-spacing="0.8">0.6</text>
<text x="491.50" y="632.10" font-size="10.5" text-anchor="middle" font-family='"Liberation Sans", sans-serif' font-weight="normal" stroke="#000" stroke-width="0.15" letter-spacing="0.8">0.3</text>
<path d="M355.50,535.45 L383.05,591.27 L410.60,607.70 L438.15,607.70 L465.70,607.70 L493.25,607.70" fill="none" stroke="#000" stroke-width="1.8" stroke-linejoin="round"/>
<circle cx="355.50" cy="535.45" r="3.2" fill="#000"/>
<circle cx="383.05" cy="591.27" r="3.2" fill="#000"/>
<circle cx="410.60" cy="607.70" r="3.2" fill="#000"/>
<circle cx="438.15" cy="607.70" r="3.2" fill="#000"/>
<circle cx="465.70" cy="607.70" r="3.2" fill="#000"/>
<circle cx="493.25" cy="607.70" r="3.2" fill="#000"/>
<path d="M355.50,606.12 L383.05,607.70 L410.60,607.70 L438.15,607.70 L465.70,607.70 L493.25,607.70" fill="none" stroke="#000" stroke-width="1.8" stroke-linejoin="round"/>
<circle cx="355.50" cy="606.12" r="2.5" fill="#fff" stroke="#000" stroke-width="1.2"/>
<circle cx="383.05" cy="607.70" r="2.5" fill="#fff" stroke="#000" stroke-width="1.2"/>
<circle cx="410.60" cy="607.70" r="2.5" fill="#fff" stroke="#000" stroke-width="1.2"/>
<circle cx="438.15" cy="607.70" r="2.5" fill="#fff" stroke="#000" stroke-width="1.2"/>
<circle cx="465.70" cy="607.70" r="2.5" fill="#fff" stroke="#000" stroke-width="1.2"/>
<circle cx="493.25" cy="607.70" r="2.5" fill="#fff" stroke="#000" stroke-width="1.2"/>
<text x="283.10" y="480.40" font-size="28.5" text-anchor="middle" font-family='"Liberation Sans", sans-serif' font-weight="bold" stroke="#000" stroke-width="0.4">F</text>
<text transform="translate(289.20,544.20) rotate(-90)" font-size="22.5" font-family='"Liberation Sans", sans-serif' font-weight="normal" text-anchor="middle" stroke="#000" stroke-width="0.4" letter-spacing="1.0">% Lysis</text>
<text x="422.80" y="657.40" font-size="17" text-anchor="middle" font-family='"Liberation Sans", sans-serif' font-weight="normal" stroke="#000" stroke-width="0.15" letter-spacing="1.2">E/T ratio</text>
<rect x="137.5" y="22" width="75" height="45.5" fill="#fff" stroke="#000" stroke-width="1.6"/>
<line x1="142.00" y1="33.00" x2="170.00" y2="33.00" stroke="#000" stroke-width="1.8"/>
<circle cx="155" cy="33" r="3" fill="#000"/>
<line x1="142.00" y1="57.00" x2="170.00" y2="57.00" stroke="#000" stroke-width="1.8"/>
<circle cx="155" cy="57" r="2.3" fill="#fff" stroke="#000" stroke-width="1.2"/>
<text x="191.55" y="39.50" font-size="15" text-anchor="middle" font-family='"Liberation Sans", sans-serif' font-weight="normal" stroke="#000" stroke-width="0.3" letter-spacing="1.5">+/+</text>
<text x="191.85" y="64.10" font-size="15" text-anchor="middle" font-family='"Liberation Sans", sans-serif' font-weight="normal" stroke="#000" stroke-width="0.3" letter-spacing="1.5">-/-</text>
</svg></body></html>
